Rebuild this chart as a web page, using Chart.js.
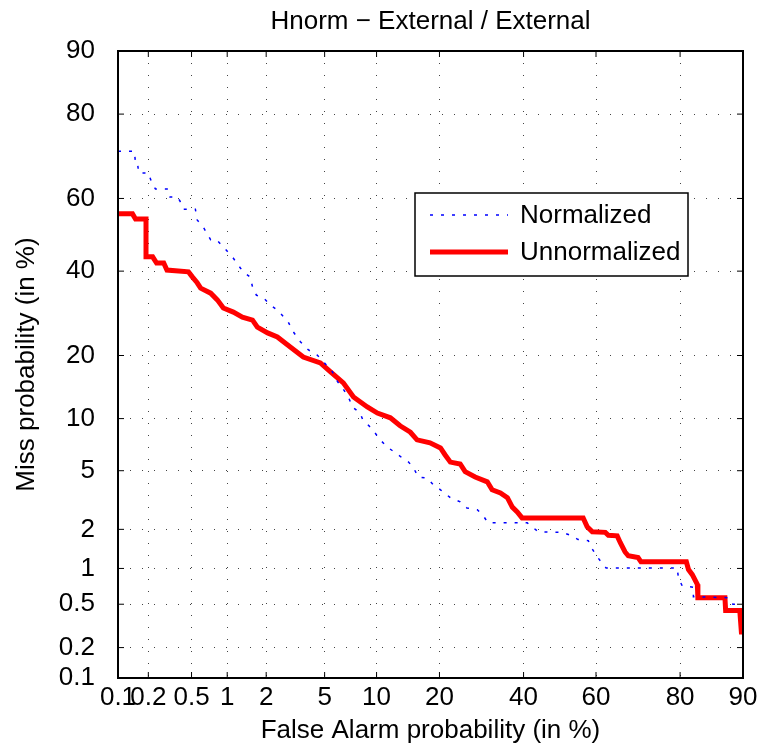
<!DOCTYPE html>
<html lang="en">
<head>
<meta charset="UTF-8" />
<title>Hnorm - External / External</title>
<script src="https://cdn.jsdelivr.net/npm/chart.js@4"></script>
<style>
  html, body { margin: 0; padding: 0; background: #fff; }
  canvas { display: block; }
</style>
</head>
<body>
<canvas id="det" width="760" height="746"></canvas>
<script>
// tick positions, in percent, same on both axes
const probTicks = [0.1, 0.2, 0.5, 1, 2, 5, 10, 20, 40, 60, 80, 90];

// Normalized (blue dotted): false alarm % / miss %
const normFa = [0.1, 0.146, 0.15, 0.157, 0.161, 0.20, 0.215, 0.234, 0.31, 0.32, 0.374, 0.40, 0.424, 0.54, 0.56, 0.63, 0.73, 0.82, 0.93, 1.10, 1.21, 1.34, 1.52, 1.58, 1.69, 1.91, 2.15, 2.41, 2.87, 3.12, 3.48, 3.94, 4.48, 4.92, 5.58, 6.0, 6.42, 6.96, 7.35, 8.12, 8.42, 9.25, 9.82, 10.45, 11.35, 12.5, 13.5, 14.5, 15.3, 16.1, 17.7, 18.8, 20.2, 22.2, 24.3, 25.8, 28.2, 29.6, 30.8, 41.0, 42.3, 44.0, 50.7, 52.9, 55.1, 57.9, 59.0, 60.3, 61.7, 62.7, 79.4, 79.7, 80.4, 82.5, 82.5, 88.1, 88.7, 90];
const normMiss = [72.0, 72.0, 69.2, 69.2, 66.7, 66.7, 64.3, 62.5, 62.5, 60.4, 60.4, 59.0, 57.1, 57.1, 54.1, 52.2, 48.6, 48.6, 46.6, 43.9, 41.9, 39.8, 38.4, 35.8, 33.7, 33.0, 31.2, 30.0, 27.2, 24.9, 22.8, 21.1, 20.1, 18.8, 17.0, 15.3, 14.3, 12.9, 11.5, 10.7, 9.84, 9.0, 8.35, 7.64, 6.96, 6.43, 6.0, 5.65, 5.22, 4.56, 4.49, 4.07, 3.77, 3.34, 3.13, 2.84, 2.76, 2.51, 2.23, 2.23, 2.09, 1.92, 1.90, 1.81, 1.68, 1.65, 1.42, 1.24, 1.10, 1.01, 1.01, 0.83, 0.72, 0.70, 0.58, 0.57, 0.50, 0.50];

// Unnormalized (red solid)
const unnormFa = [0.1, 0.14, 0.15, 0.19, 0.19, 0.22, 0.24, 0.28, 0.30, 0.47, 0.51, 0.56, 0.60, 0.73, 0.83, 0.93, 1.12, 1.32, 1.58, 1.72, 2.05, 2.41, 2.97, 3.64, 4.70, 5.42, 6.50, 7.45, 8.91, 10.1, 11.8, 13.2, 14.8, 15.9, 18.2, 20.2, 21.1, 22.2, 24.3, 25.4, 27.7, 30.6, 31.8, 33.9, 35.7, 37.0, 38.3, 39.6, 56.5, 57.6, 59.0, 62.5, 63.3, 65.6, 66.4, 67.6, 68.4, 70.8, 71.5, 81.2, 81.6, 82.3, 83.2, 83.3, 87.6, 87.7, 89.6, 89.8, 90];
const unnormMiss = [55.8, 55.8, 54.4, 54.4, 43.9, 43.9, 42.2, 42.2, 40.3, 39.8, 38.4, 36.9, 35.5, 34.2, 32.5, 30.5, 29.5, 28.3, 27.6, 26.0, 24.7, 23.8, 21.7, 19.7, 18.6, 17.0, 15.1, 12.9, 11.5, 10.7, 10.1, 9.15, 8.43, 7.64, 7.35, 6.86, 6.26, 5.65, 5.50, 4.93, 4.56, 4.25, 3.77, 3.59, 3.34, 2.88, 2.67, 2.42, 2.42, 2.09, 1.92, 1.90, 1.81, 1.79, 1.59, 1.35, 1.26, 1.22, 1.13, 1.13, 0.98, 0.89, 0.74, 0.57, 0.57, 0.44, 0.44, 0.28, 0.28];

const titleText = 'Hnorm \u2212 External / External';
const FONT = "'Liberation Sans', Arial, Helvetica, sans-serif";

// inverse normal cdf (Acklam)
function probit(p) {
  const a = [-39.69683028665376, 220.9460984245205, -275.9285104469687, 138.3577518672690, -30.66479806614716, 2.506628277459239];
  const b = [-54.47609879822406, 161.5858368580409, -155.6989798598866, 66.80131188771972, -13.28068155288572];
  const c = [-0.007784894002430293, -0.3223964580411365, -2.400758277161838, -2.549732539343734, 4.374664141464968, 2.938163982698783];
  const d = [0.007784695709041462, 0.3224671290700398, 2.445134137142996, 3.754408661907416];
  const plow = 0.02425;
  let q, r;
  if (p < plow) {
    q = Math.sqrt(-2 * Math.log(p));
    return (((((c[0] * q + c[1]) * q + c[2]) * q + c[3]) * q + c[4]) * q + c[5]) /
      ((((d[0] * q + d[1]) * q + d[2]) * q + d[3]) * q + 1);
  }
  if (p <= 1 - plow) {
    q = p - 0.5;
    r = q * q;
    return (((((a[0] * r + a[1]) * r + a[2]) * r + a[3]) * r + a[4]) * r + a[5]) * q /
      (((((b[0] * r + b[1]) * r + b[2]) * r + b[3]) * r + b[4]) * r + 1);
  }
  q = Math.sqrt(-2 * Math.log(1 - p));
  return -(((((c[0] * q + c[1]) * q + c[2]) * q + c[3]) * q + c[4]) * q + c[5]) /
    ((((d[0] * q + d[1]) * q + d[2]) * q + d[3]) * q + 1);
}

// normal deviate scale, values in percent
class ProbitScale extends Chart.Scale {
  static id = 'probit';
  static defaults = {};
  determineDataLimits() {
    this.min = this.options.min;
    this.max = this.options.max;
  }
  buildTicks() {
    return probTicks.filter(v => v >= this.min && v <= this.max).map(v => ({ value: v }));
  }
  getLabelForValue(v) { return String(v); }
  getPixelForValue(v) {
    const lo = probit(this.min / 100), hi = probit(this.max / 100);
    return this.getPixelForDecimal((probit(v / 100) - lo) / (hi - lo));
  }
  getValueForPixel(px) { return null; }
  getPixelForTick(i) { return this.getPixelForValue(this.ticks[i].value); }
}
Chart.register(ProbitScale);

const zip = (xs, ys) => xs.map((x, i) => ({ x: x, y: ys[i] }));

// title, box, inward ticks and legend
const detFrame = {
  id: 'detFrame',
  afterDatasetsDraw(chart) {
    const { ctx, chartArea: a, scales } = chart;
    ctx.save();
    ctx.fillStyle = '#000';
    ctx.font = '26px ' + FONT;
    ctx.textAlign = 'center';
    ctx.textBaseline = 'middle';
    ctx.fillText(titleText, (a.left + a.right) / 2, 22);

    ctx.strokeStyle = '#000';
    ctx.lineWidth = 1;
    ctx.beginPath();
    scales.x.ticks.forEach((t, i) => {
      const px = scales.x.getPixelForTick(i);
      ctx.moveTo(px, a.bottom); ctx.lineTo(px, a.bottom - 6);
      ctx.moveTo(px, a.top); ctx.lineTo(px, a.top + 6);
    });
    scales.y.ticks.forEach((t, i) => {
      const py = scales.y.getPixelForTick(i);
      ctx.moveTo(a.left, py); ctx.lineTo(a.left + 6, py);
      ctx.moveTo(a.right, py); ctx.lineTo(a.right - 6, py);
    });
    ctx.stroke();
    ctx.lineWidth = 2;
    ctx.strokeRect(a.left, a.top, a.right - a.left, a.bottom - a.top);

    // legend
    const bx = 415, by = 193, bw = 273, bh = 83;
    ctx.fillStyle = '#fff';
    ctx.fillRect(bx, by, bw, bh);
    ctx.lineWidth = 1.5;
    ctx.strokeRect(bx, by, bw, bh);
    ctx.font = '26px ' + FONT;
    ctx.textAlign = 'left';
    chart.data.datasets.forEach((ds, i) => {
      const y = by + 22 + i * 37;
      ctx.save();
      ctx.strokeStyle = ds.borderColor;
      ctx.lineWidth = ds.borderWidth;
      ctx.setLineDash(ds.borderDash || []);
      ctx.beginPath();
      ctx.moveTo(bx + 15, y); ctx.lineTo(bx + 93, y);
      ctx.stroke();
      ctx.restore();
      ctx.fillStyle = '#000';
      ctx.fillText(ds.label, bx + 105, y + 1);
    });
    ctx.restore();
  }
};

const axisCommon = {
  type: 'probit',
  min: 0.1,
  max: 90,
  grid: { color: '#444', lineWidth: 1, drawTicks: false },
  border: { display: false, dash: [1, 11] },
};

new Chart(document.getElementById('det'), {
  type: 'line',
  data: {
    datasets: [
      {
        label: 'Normalized',
        data: zip(normFa, normMiss),
        borderColor: '#0000ff',
        borderWidth: 1.5,
        borderDash: [3, 8],
        pointRadius: 0,
        tension: 0,
        fill: false,
      },
      {
        label: 'Unnormalized',
        data: zip(unnormFa, unnormMiss),
        borderColor: '#ff0000',
        borderWidth: 5,
        pointRadius: 0,
        tension: 0,
        fill: false,
      },
    ],
  },
  options: {
    responsive: false,
    animation: false,
    layout: { padding: { left: 0, right: 17, top: 51, bottom: 0 } },
    plugins: {
      legend: { display: false },
      tooltip: { enabled: false },
      title: { display: false },
    },
    scales: {
      x: {
        ...axisCommon,
        position: 'bottom',
        afterFit(s) { s.height = 68; s.paddingLeft = 0; s.paddingRight = 0; },
        ticks: {
          autoSkip: false, maxRotation: 0, padding: 4, color: '#000',
          font: { family: FONT, size: 26 },
          callback: v => String(v),
        },
        title: {
          display: true, text: 'False Alarm probability (in %)', color: '#000',
          font: { family: FONT, size: 26 }, padding: { top: 0, bottom: 0 },
        },
      },
      y: {
        ...axisCommon,
        position: 'left',
        afterFit(s) { s.width = 118; s.paddingTop = 0; s.paddingBottom = 0; },
        ticks: {
          autoSkip: false, padding: 23, color: '#000',
          font: { family: FONT, size: 26 },
          callback: v => String(v),
        },
        title: {
          display: true, text: 'Miss probability (in %)', color: '#000',
          font: { family: FONT, size: 26 }, padding: { top: 11, bottom: 0 },
        },
      },
    },
  },
  plugins: [detFrame],
});
</script>
</body>
</html>
